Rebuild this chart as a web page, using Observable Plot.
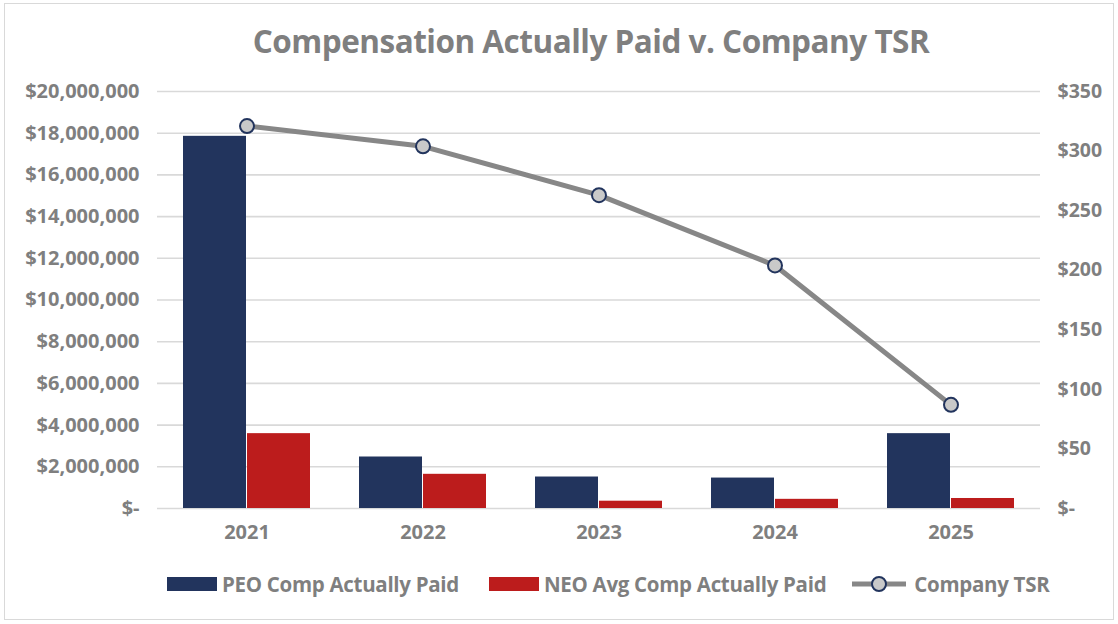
<!DOCTYPE html>
<html>
<head>
<meta charset="utf-8">
<script src="https://cdn.jsdelivr.net/npm/d3@7"></script>
<script src="https://cdn.jsdelivr.net/npm/@observablehq/plot@0.6"></script>
<style>
  html, body { margin: 0; padding: 0; background: #fff; }
  #frame { position: relative; width: 1118px; height: 624px; overflow: hidden; font-family: "Open Sans", sans-serif; }
  #border { position: absolute; left: 4px; top: 3px; width: 1110px; height: 617px; border: 1.5px solid #d9d9d9; box-sizing: border-box; }
  #title { position: absolute; left: 0; width: 1182px; top: 19px; text-align: center; font-size: 31.5px; font-weight: 700; color: #7f7f7f; letter-spacing: -0.5px; }
  #chart { position: absolute; left: 0; top: 70px; }
  #legend { position: absolute; top: 570px; left: 167px; display: flex; align-items: center; font-size: 20.5px; font-weight: 700; color: #7f7f7f; letter-spacing: -0.3px; white-space: nowrap; }
  .item { display: flex; align-items: center; }
  .sw { width: 50px; height: 14px; margin-right: 5px; }
</style>
</head>
<body>
<div id="frame">
  <div id="border"></div>
  <div id="title">Compensation Actually Paid v. Company TSR</div>
  <div id="chart"></div>
  <div id="legend"></div>
</div>
<script>
const years = ["2021", "2022", "2023", "2024", "2025"];
const peoComp = [17850000, 2470000, 1510000, 1460000, 3590000];
const neoComp = [3590000, 1640000, 350000, 440000, 480000];
const tsr = [321, 304, 263, 204, 87];
const leftTicks = [0, 2e6, 4e6, 6e6, 8e6, 10e6, 12e6, 14e6, 16e6, 18e6, 20e6];
const rightTicks = [0, 50, 100, 150, 200, 250, 300, 350];
const seriesNames = ["PEO Comp Actually Paid", "NEO Avg Comp Actually Paid", "Company TSR"];
const colors = { peo: "#22345d", neo: "#bc1c1c", line: "#878787", dotFill: "#c9c9c9", dotStroke: "#22345d" };

const k = 20e6 / 350;
const rows = years.map((y, i) => ({ year: y, peo: peoComp[i], neo: neoComp[i], tsr: tsr[i] * k }));

const fmtMoney = v => v === 0 ? "$-" : "$" + d3.format(",")(v);

const chart = Plot.plot({
  width: 1118,
  height: 480,
  marginLeft: 157,
  marginRight: 78,
  marginTop: 21,
  marginBottom: 42,
  style: { fontFamily: "Open Sans, sans-serif", fontSize: "20px", fontWeight: 700, color: "#7f7f7f", background: "transparent" },
  x: { domain: years, paddingInner: 0.277, paddingOuter: 0.1385, label: null },
  y: { domain: [0, 20e6], label: null },
  marks: [
    Plot.gridY({ ticks: leftTicks, stroke: "#d9d9d9", strokeOpacity: 1, strokeWidth: 1.6 }),
    Plot.axisX({ tickSize: 0, tickPadding: 16, fill: "#7f7f7f", fontWeight: 700, fontSize: 20 }),
    Plot.axisY({ anchor: "left", ticks: leftTicks, tickFormat: fmtMoney, tickSize: 0, tickPadding: 18, fill: "#7f7f7f", fontWeight: 700, fontSize: 20, label: null }),
    Plot.axisY({ anchor: "right", ticks: rightTicks.map(v => v * k), tickFormat: v => fmtMoney(Math.round(v / k)), tickSize: 0, tickPadding: 17, fill: "#7f7f7f", fontWeight: 700, fontSize: 19.5, label: null }),
    Plot.barY(rows, { x: "year", y: "peo", fill: colors.peo, insetRight: 64 }),
    Plot.barY(rows, { x: "year", y: "neo", fill: colors.neo, insetLeft: 64 }),
    Plot.line(rows, { x: "year", y: "tsr", stroke: colors.line, strokeWidth: 5 }),
    Plot.dot(rows, { x: "year", y: "tsr", r: 7, fill: colors.dotFill, stroke: colors.dotStroke, strokeWidth: 2 })
  ]
});
document.getElementById("chart").appendChild(chart);

const legend = document.getElementById("legend");
const items = [
  { name: seriesNames[0], type: "rect", color: colors.peo, gap: 30 },
  { name: seriesNames[1], type: "rect", color: colors.neo, gap: 25 },
  { name: seriesNames[2], type: "line", gap: 0 }
];
items.forEach(it => {
  const el = document.createElement("div");
  el.className = "item";
  el.style.marginRight = it.gap + "px";
  if (it.type === "rect") {
    el.innerHTML = `<div class="sw" style="background:${it.color}"></div><span>${it.name}</span>`;
  } else {
    el.innerHTML = `<svg width="56" height="18" style="margin-right:7px"><line x1="1" x2="55" y1="9" y2="9" stroke="${colors.line}" stroke-width="5"/><circle cx="28" cy="9" r="7" fill="${colors.dotFill}" stroke="${colors.dotStroke}" stroke-width="2"/></svg><span>${it.name}</span>`;
  }
  legend.appendChild(el);
});
</script>
</body>
</html>
